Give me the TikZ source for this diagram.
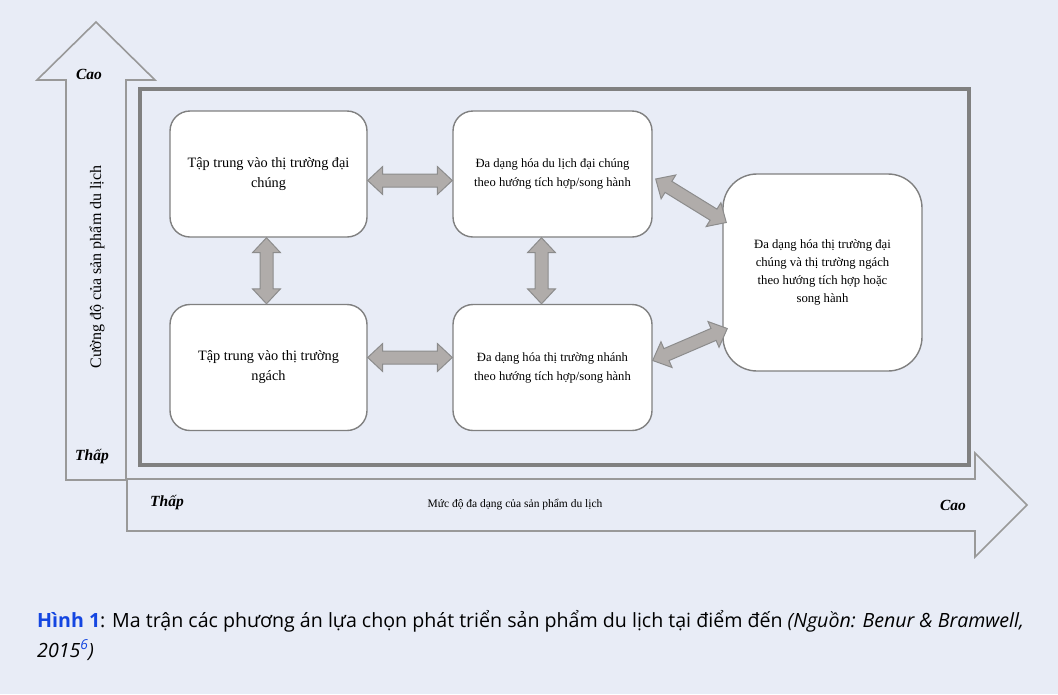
\documentclass[tikz,border=0pt]{standalone}
\usepackage{fontspec}
\setmainfont{Liberation Serif}
\newfontfamily\capfont{Open Sans}
\usetikzlibrary{calc}

\definecolor{bgcol}{RGB}{232,236,246}
\definecolor{linecol}{RGB}{128,128,128}
\definecolor{arrowfill}{RGB}{176,172,170}
\definecolor{arrowline}{RGB}{140,140,140}
\definecolor{capblue}{RGB}{20,70,225}

% fat double-headed arrow between two points
\newcommand{\dblarrow}[2]{%
  \filldraw[fatarrow] (#1)
    -- ($(#1)!15pt!(#2)!14pt!90:(#2)$)
    -- ($(#1)!15pt!(#2)!6.5pt!90:(#2)$)
    -- ($(#2)!15pt!(#1)!6.5pt!-90:(#1)$)
    -- ($(#2)!15pt!(#1)!14pt!-90:(#1)$)
    -- (#2)
    -- ($(#2)!15pt!(#1)!14pt!90:(#1)$)
    -- ($(#2)!15pt!(#1)!6.5pt!90:(#1)$)
    -- ($(#1)!15pt!(#2)!6.5pt!-90:(#2)$)
    -- ($(#1)!15pt!(#2)!14pt!-90:(#2)$)
    -- cycle;}

\begin{document}
\begin{tikzpicture}[x=1pt,y=-1pt]

\tikzset{box/.style = {draw=linecol, fill=white, line width=1.4pt, rounded corners=20pt,
  minimum width=197pt, minimum height=126pt, inner sep=0pt, align=center,
  font=\fontsize{12.6}{19}\selectfont}}
\tikzset{fatarrow/.style = {fill=arrowfill, draw=arrowline, line width=1pt, line join=miter}}
\tikzset{axis/.style = {draw=linecol!80, line width=1.6pt, line join=miter}}
\tikzset{level/.style = {font=\fontsize{15.5}{17}\selectfont\bfseries\itshape}}

\fill[bgcol] (0,0) rectangle (1058,694);
\useasboundingbox (0,0) rectangle (1058,694);

%axes
\draw[axis] (66,480) -- (66,80) -- (37,80) -- (96,22) -- (155,80) -- (126,80) -- (126,480) -- cycle;
\draw[axis] (127,479) -- (975,479) -- (975,453) -- (1027,505) -- (975,557) -- (975,531) -- (127,531) -- cycle;
\node[level] (ycao) at (89,74) {Cao};
\node[level] (ythap) at (92,457) {Thấp};
\node[level] (xthap) at (167,503) {Thấp};
\node[level] (xcao) at (953,505) {Cao};
\node[font=\fontsize{11.5}{14}\selectfont] (xlabel) at (515,505) {Mức độ đa dạng của sản phẩm du lịch};
\node[rotate=90, font=\fontsize{16}{18}\selectfont] (ylabel) at (97,267) {Cường độ của sản phẩm du lịch};

%frame
\draw[linecol, line width=4pt] (140,89) rectangle (969,465);

%boxes
\node[box, font=\fontsize{14.3}{20}\selectfont] (A) at (268.5,174) {Tập trung vào thị trường đại\\chúng};
\node[box, minimum width=199pt] (B) at (552.5,174) {Đa dạng hóa du lịch đại chúng\\theo hướng tích hợp/song hành};
\node[box, font=\fontsize{14.3}{20}\selectfont] (C) at (268.5,367.5) {Tập trung vào thị trường\\ngách};
\node[box, minimum width=199pt] (D) at (552.5,367.5) {Đa dạng hóa thị trường nhánh\\theo hướng tích hợp/song hành};
\node[box, minimum width=199pt, minimum height=197pt, rounded corners=34pt,
  font=\fontsize{12.7}{18}\selectfont] (E) at (822.5,272.5)
  {Đa dạng hóa thị trường đại\\chúng và thị trường ngách\\theo hướng tích hợp hoặc\\song hành};

%arrows
\coordinate (ab1) at ($(A.east)+(0,6.5)$);
\coordinate (ab2) at ($(B.west)+(0,6.5)$);
\coordinate (cd1) at ($(C.east)+(0,-10)$);
\coordinate (cd2) at ($(D.west)+(0,-10)$);
\coordinate (ac1) at ($(A.south)+(-2,0)$);
\coordinate (ac2) at ($(C.north)+(-2,0)$);
\coordinate (bd1) at ($(B.south)+(-11,0)$);
\coordinate (bd2) at ($(D.north)+(-11,0)$);
\coordinate (be1) at ($(B.east)+(3,5)$);
\coordinate (be2) at ($(E.west)+(4,-50)$);
\coordinate (de1) at ($(D.east)+(0,-7)$);
\coordinate (de2) at ($(E.west)+(5,56)$);
\dblarrow{ab1}{ab2}
\dblarrow{cd1}{cd2}
\dblarrow{ac1}{ac2}
\dblarrow{bd1}{bd2}
\dblarrow{be1}{be2}
\dblarrow{de2}{de1}

%caption
\node[anchor=north west, align=left, inner sep=0pt, font=\capfont\fontsize{19.6}{30}\selectfont] (caption) at (37,610)
  {{\bfseries\color{capblue}Hình 1}: Ma trận các phương án lựa chọn phát triển sản phẩm du lịch tại điểm đến \textit{(Nguồn: Benur \& Bramwell,}\\
   \textit{2015\textsuperscript{\color{capblue}6})}};

\end{tikzpicture}
\end{document}
